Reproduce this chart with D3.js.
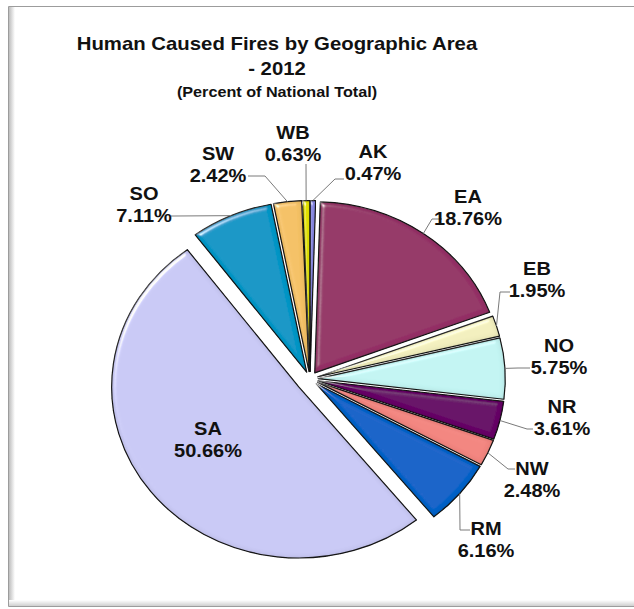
<!DOCTYPE html>
<html><head><meta charset="utf-8">
<script src="https://cdn.jsdelivr.net/npm/d3@7"></script>
<style>html,body{margin:0;padding:0;background:#fff;} svg{display:block;}</style>
</head><body><svg id="chart" width="634" height="609"></svg>
<script>
// ---- data ----
const categories = ["AK","EA","EB","NO","NR","NW","RM","SA","SO","SW","WB"];
const values = [0.47,18.76,1.95,5.75,3.61,2.48,6.16,50.66,7.11,2.42,0.63];
const sliceColors = ["#8a8ae6","#943366","#f2efbe","#c2f4f2","#660066","#f2857f","#0a62c8","#c9c9f5","#0896c6","#f4c165","#e6e600"];
const titleLines = ["Human Caused Fires by Geographic Area","- 2012"];
const subtitle = "(Percent of National Total)";

// ---- layout (annotation placement) ----
const labelLayout = {
  AK:{x:373,y:158,leader:[[335,179],[344,179]]},
  EA:{x:468,y:203,leader:[[432,219],[442,219]]},
  EB:{x:537,y:275,leader:[[500,292],[510,292]]},
  NO:{x:559,y:352,leader:[[518,368],[530,368]]},
  NR:{x:562,y:413,leader:[[527,429],[533,429]]},
  NW:{x:532,y:475,leader:[[508,469],[515,469]]},
  RM:{x:486,y:535,leader:[[460,530],[470,530]]},
  SA:{x:208,y:435,leader:null},
  SO:{x:144,y:200,leader:[[175,216],[171,216]]},
  SW:{x:218,y:160,leader:[[265,176],[248,176]]},
  WB:{x:293,y:139,leader:[[306,164],[306,164]]}
};
const cx = 310, cy = 379, R = 171, sx = 1.094;
const explode = 7.5, explodeBig = {SA:13};
const lineGap = 22;

const svg = d3.select("#chart");
const defs = svg.append("defs");

// gradients for frame shadow
const gl = defs.append("linearGradient").attr("id","gLeft").attr("x1",0).attr("x2",1).attr("y1",0).attr("y2",0);
gl.append("stop").attr("offset",0).attr("stop-color","#bdbdbd");
gl.append("stop").attr("offset",1).attr("stop-color","#ffffff");
const gb = defs.append("linearGradient").attr("id","gBottom").attr("x1",0).attr("x2",0).attr("y1",0).attr("y2",1);
gb.append("stop").attr("offset",0).attr("stop-color","#ffffff");
gb.append("stop").attr("offset",1).attr("stop-color","#cfcfcf");

// bevel filter
const f = defs.append("filter").attr("id","bevel").attr("x","-5%").attr("y","-5%").attr("width","110%").attr("height","110%");
f.append("feGaussianBlur").attr("in","SourceAlpha").attr("stdDeviation",2.5).attr("result","blur");
const sp = f.append("feSpecularLighting").attr("in","blur").attr("surfaceScale",4).attr("specularConstant",1.0)
  .attr("specularExponent",30).attr("lighting-color","#ffffff").attr("result","spec");
sp.append("feDistantLight").attr("azimuth",225).attr("elevation",30);
f.append("feComposite").attr("in","spec").attr("in2","SourceAlpha").attr("operator","in").attr("result","specIn");
f.append("feComposite").attr("in","SourceGraphic").attr("in2","specIn").attr("operator","arithmetic")
  .attr("k1",0).attr("k2",1).attr("k3",0.7).attr("k4",0).attr("result","lit");
f.append("feComposite").attr("in","SourceAlpha").attr("in2","blur").attr("operator","arithmetic")
  .attr("k1",0).attr("k2",1).attr("k3",-1).attr("k4",0).attr("result","edge");
f.append("feFlood").attr("flood-color","#000").attr("flood-opacity",0.4);
f.append("feComposite").attr("in2","edge").attr("operator","in").attr("result","shade");
const fm = f.append("feMerge");
fm.append("feMergeNode").attr("in","lit");
fm.append("feMergeNode").attr("in","shade");

// frame
svg.append("rect").attr("x",9).attr("y",7).attr("width",6).attr("height",599).attr("fill","url(#gLeft)");
svg.append("rect").attr("x",9).attr("y",600).attr("width",625).attr("height",6).attr("fill","url(#gBottom)");
svg.append("path").attr("d","M634,6.5H8.5V606.5H634").attr("fill","none").attr("stroke","#9c9c9c").attr("stroke-width",1);

const font = "'Liberation Sans', Arial, sans-serif";
function addText(g, x, y, txt, size){
  return g.append("text").attr("transform",`translate(${x},${y}) scale(${sx},1)`)
    .attr("text-anchor","middle").attr("font-family",font).attr("font-weight","bold")
    .attr("font-size",size).attr("fill","#111").text(txt);
}

// title
const tg = svg.append("g");
addText(tg, 277, 50, titleLines[0], 18.6);
addText(tg, 277, 75, titleLines[1], 18.6);
addText(tg, 277, 97, subtitle, 14.8);

// pie
const color = d3.scaleOrdinal(categories, sliceColors);
const pie = d3.pie().sort(null).value(d => d.value).startAngle(0).endAngle(2*Math.PI);
const data = categories.map((c,i) => ({cat:c, value:values[i]}));
const arcs = pie(data);
const arc = d3.arc().innerRadius(0).outerRadius(R);

const pg = svg.append("g").attr("transform",`translate(${cx},${cy}) scale(${sx},1)`);
const off = d => explodeBig[d.data.cat] !== undefined ? explodeBig[d.data.cat] : explode;
const mid = d => (d.startAngle + d.endAngle)/2;

pg.selectAll("path.slice").data(arcs).join("path")
  .attr("class","slice")
  .attr("transform", d => `translate(${off(d)*Math.sin(mid(d))},${-off(d)*Math.cos(mid(d))})`)
  .attr("d", arc)
  .attr("fill", d => color(d.data.cat))
  .attr("filter","url(#bevel)")
  .attr("stroke","#1a1a1a").attr("stroke-width",1.2)
  .attr("stroke-linejoin","round")
  .attr("vector-effect","non-scaling-stroke");

// leaders + labels
const lg = svg.append("g");
const line = d3.line();
arcs.forEach(d => {
  const L = labelLayout[d.data.cat];
  const m = mid(d), r = R + off(d);
  const p0 = [cx + sx*r*Math.sin(m), cy - r*Math.cos(m)];
  if (L.leader) {
    lg.append("path").attr("d", line([p0, ...L.leader]))
      .attr("fill","none").attr("stroke","#7a7a7a").attr("stroke-width",1);
  }
  addText(lg, L.x, L.y, d.data.cat, 18.3);
  addText(lg, L.x, L.y + lineGap, d.data.value.toFixed(2) + "%", 18.3);
});
</script>
</body></html>
